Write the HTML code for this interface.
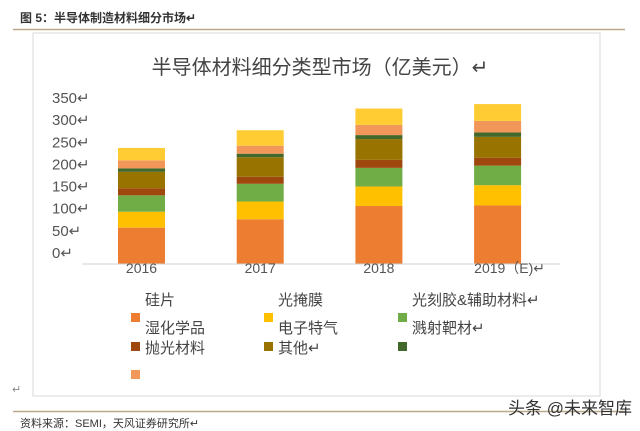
<!DOCTYPE html>
<html><head><meta charset="utf-8"><style>
body{margin:0;width:640px;height:431px;background:#fff;overflow:hidden;font-family:"Liberation Sans","Noto Sans CJK SC",sans-serif;}
svg{position:absolute;left:0;top:0}
</style></head><body>
<svg width="640" height="431" id="c">
<text x="20" y="22" font-size="12" font-weight="bold" fill="#333" font-family="Liberation Sans,Noto Sans CJK SC,sans-serif">图 5：半导体制造材料细分市场↵</text>
<line x1="13" y1="29.5" x2="625" y2="29.5" stroke="#b9a98a" stroke-width="1.5"/>
<rect x="33" y="33" width="567" height="363" fill="none" stroke="#d8d8d8"/>
<text x="320" y="74" text-anchor="middle" font-size="20" fill="#444" font-family="Liberation Sans,Noto Sans CJK SC,sans-serif">半导体材料细分类型市场（亿美元）↵</text>
<g id="yax"></g><g id="bars"></g><g id="xax"></g><g id="leg"></g>
<text x="12" y="393" font-size="11" fill="#888">↵</text>
<line x1="13" y1="411.5" x2="625" y2="411.5" stroke="#b9a98a" stroke-width="1.5"/>
<text x="20" y="427" font-size="11" fill="#333" font-family="Liberation Sans,Noto Sans CJK SC,sans-serif">资料来源：SEMI，天风证券研究所↵</text>
<text x="508" y="414" font-size="17" fill="#333" font-family="Liberation Sans,Noto Sans CJK SC,sans-serif">头条 @未来智库</text>
</svg>
<script>
const categories=["2016","2017","2018","2019（E)↵"];
const seriesNames=["硅片","湿化学品","抛光材料","光掩膜","电子特气","其他","光刻胶&辅助材料","溅射靶材",""];
const colors=["#ed7d31","#ffc000","#70ad47","#9e480e","#997300","#43682b","#f1975a","#ffcd33"];
const s1=[82,101,131,132];
const s2=[36,40,44,46];
const s3=[37,40,42,44];
const s4=[16,16,18,18];
const s5=[37,44,47,47];
const s6=[8,8,9,10];
const s7=[18,18,23,26];
const s8=[28,35,37,38];
const series=[s1,s2,s3,s4,s5,s6,s7,s8];
const ticks=[0,50,100,150,200,250,300,350];
const NS="http://www.w3.org/2000/svg";
const base=264,k=0.443,x0=118,step=118.7,bw=47;
const y=v=>base-v*k;
function mk(t,a,p){const e=document.createElementNS(NS,t);for(const n in a)e.setAttribute(n,a[n]);p.appendChild(e);return e;}
const ff="Liberation Sans,Noto Sans CJK SC,sans-serif";
const yax=document.getElementById('yax');
ticks.forEach(t=>{const e=mk('text',{x:52,y:y(t)-6,'font-size':15,fill:'#555','font-family':ff},yax);e.textContent=t+"↵";

});
const bars=document.getElementById('bars');
categories.forEach((c,i)=>{let acc=0;series.forEach((s,j)=>{const r=mk('rect',{x:x0+i*step,y:y(acc+s[i]),width:bw,height:s[i]*k,fill:colors[j]},bars);acc+=s[i];

});});
const xax=document.getElementById('xax');
const ax=mk('line',{x1:82,y1:base,x2:560,y2:base,stroke:'#d0d0d0'},xax);


categories.forEach((c,i)=>{const e=mk('text',{x:x0+i*step+bw/2+(i==3?12:0),y:base+9,'font-size':14,fill:'#555','text-anchor':'middle','font-family':ff},xax);e.textContent=c;

});
const leg=document.getElementById('leg');
const legTexts=[["硅片",145,305],["光掩膜",278,305],["光刻胶&辅助材料↵",412,305],["湿化学品",145,333],["电子特气",278,333],["溅射靶材↵",412,333],["抛光材料",145,353],["其他↵",278,353]];
legTexts.forEach(t=>{const e=mk('text',{x:t[1],y:t[2],'font-size':15,fill:'#444','font-family':ff},leg);e.textContent=t[0];

});
const sq=[[131,313,0],[264,313,1],[398,313,2],[131,342,3],[264,342,4],[398,342,5],[131,370,6]];
sq.forEach(q=>{const r=mk('rect',{x:q[0],y:q[1],width:9,height:9,fill:colors[q[2]]},leg);

});
</script>
</body></html>
